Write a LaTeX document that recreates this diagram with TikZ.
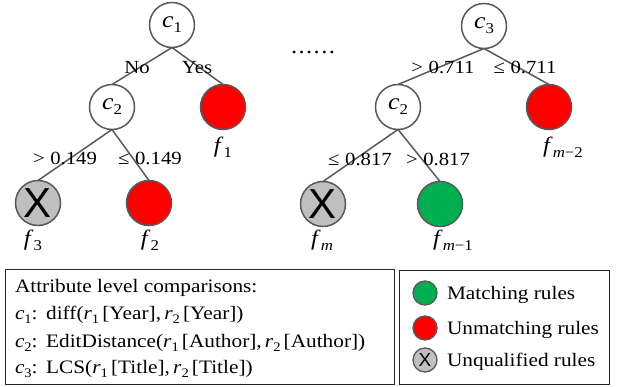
\RequirePackage{fix-cm}
\documentclass[tikz,border=0pt]{standalone}
\usepackage{fontspec}
\setmainfont{Liberation Serif}[FakeStretch=1.12]
\newfontfamily\xfont{Liberation Sans}
\definecolor{edgegray}{HTML}{595959}
\definecolor{leafred}{HTML}{FF0000}
\definecolor{leafgreen}{HTML}{00B050}
\definecolor{leafgray}{HTML}{BFBFBF}
% italic letter with lowered upright subscript: {letter}{sub}{subsize}
\newcommand{\vsub}[3]{\textit{#1}\raisebox{-0.22em}{\fontsize{#3}{#3}\selectfont #2}}
\begin{document}
\begin{tikzpicture}[x=1pt,y=-1pt,
  every node/.style={inner sep=0pt, outer sep=0pt},
  cnode/.style={circle, draw=edgegray, line width=1.5pt, minimum size=45pt, fill=white, font=\fontsize{23}{23}\selectfont},
  redleaf/.style={cnode, fill=leafred},
  greenleaf/.style={cnode, fill=leafgreen},
  grayleaf/.style={cnode, fill=leafgray, font=\xfont\fontsize{42}{42}\selectfont},
  smallleaf/.style={minimum size=24pt, line width=1.3pt},
  edge/.style={draw=edgegray, line width=1.5pt},
  lbl/.style={font=\fontsize{22}{22}\selectfont},
  elbl/.style={font=\fontsize{18.5}{18.5}\selectfont},
  txt/.style={anchor=base west, font=\fontsize{19}{19}\selectfont},
  boxst/.style={draw=black!85, line width=0.8pt, anchor=north west},
]
\useasboundingbox (0,0) rectangle (618,387);
% tree 1
\node[cnode] (c1) at (172,25) {\vsub{c}{1}{15}};
\node[cnode] (c2a) at (112,107) {\vsub{c}{2}{15}};
\node[redleaf] (f1) at (223,107) {};
\node[grayleaf] (f3) at (38,203) {X};
\node[redleaf] (f2) at (149,203) {};
\draw[edge] (c1.south) -- (c2a.north);
\draw[edge] (c1.south) -- (f1.north);
\draw[edge] (c2a.south) -- (f3.north);
\draw[edge] (c2a.south) -- (f2.north);
\node[elbl] (no) at (137,68) {No};
\node[elbl] (yes) at (197,68) {Yes};
\node[elbl] (l1) at (65,158) {>\hspace{0.3em}0.149};
\node[elbl] (l2) at (150,158) {≤\hspace{0.3em}0.149};
\node[lbl] (f1l) at (223,147) {\vsub{f}{1}{15}};
\node[lbl] (f3l) at (33,240) {\vsub{f}{3}{15}};
\node[lbl] (f2l) at (150,240) {\vsub{f}{2}{15}};
% dots
\node[font=\fontsize{22}{22}\selectfont] (dots) at (313,53) {\makebox[44pt]{.\hfill.\hfill.\hfill.\hfill.\hfill.}};
% tree 2
\node[cnode] (c3) at (484,26) {\vsub{c}{3}{15}};
\node[cnode] (c2b) at (398,107) {\vsub{c}{2}{15}};
\node[redleaf] (fm2) at (549,107) {};
\node[grayleaf] (fm) at (323,204) {X};
\node[greenleaf] (fm1) at (440,204) {};
\draw[edge] (c3.south) -- (c2b.north);
\draw[edge] (c3.south) -- (fm2.north);
\draw[edge] (c2b.south) -- (fm.north);
\draw[edge] (c2b.south) -- (fm1.north);
\node[elbl] (l3) at (443,67) {>\hspace{0.3em}0.711};
\node[elbl] (l4) at (525,67) {≤\hspace{0.3em}0.711};
\node[elbl] (l5) at (360,159) {≤\hspace{0.3em}0.817};
\node[elbl] (l6) at (438,159) {>\hspace{0.3em}0.817};
\node[lbl] (fm2l) at (563,147) {\vsub{f}{\textit{m}−2}{15}};
\node[lbl] (fml) at (322,240) {\vsub{f}{\textit{m}}{15}};
\node[lbl] (fm1l) at (453,240) {\vsub{f}{\textit{m}−1}{15}};
% boxes
\node[boxst, minimum width=389pt, minimum height=115pt] (box1) at (5,269) {};
\node[boxst, minimum width=210pt, minimum height=114pt] (box2) at (399,270) {};
\node[txt] (t1) at (15,292) {Attribute level comparisons:};
\node[txt] (t2) at (15,319) {\vsub{c}{1}{13}:\hspace{0.45em}diff(\vsub{r}{1}{13}\,[Year],\,\vsub{r}{2}{13}\,[Year])};
\node[txt] (t3) at (15,347) {\vsub{c}{2}{13}:\hspace{0.45em}EditDistance(\vsub{r}{1}{13}\,[Author],\,\vsub{r}{2}{13}\,[Author])};
\node[txt] (t4) at (15,373) {\vsub{c}{3}{13}:\hspace{0.45em}LCS(\vsub{r}{1}{13}\,[Title],\,\vsub{r}{2}{13}\,[Title])};
% legend
\node[greenleaf, smallleaf] (lg) at (425,293) {};
\node[redleaf, smallleaf] (lr) at (425,328) {};
\node[grayleaf, smallleaf, font=\xfont\fontsize{19}{19}\selectfont] (lx) at (425,360) {X};
\node[txt] (tg) at (447,299) {Matching rules};
\node[txt] (tr) at (447,334) {Unmatching rules};
\node[txt] (tx) at (447,366) {Unqualified rules};
\end{tikzpicture}
\end{document}
